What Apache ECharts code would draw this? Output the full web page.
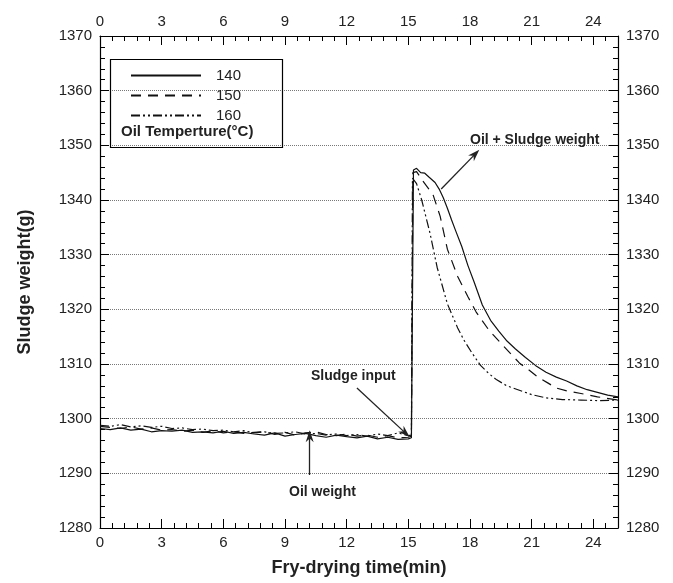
<!DOCTYPE html>
<html>
<head>
<meta charset="utf-8">
<script src="https://cdn.jsdelivr.net/npm/echarts@6/dist/echarts.min.js"></script>
<style>html,body{margin:0;padding:0;background:#fff;}#c{width:673px;height:583px;}</style>
</head>
<body>
<div id="c"></div>
<script>
// ---- data ----
const seriesNames = ['140', '150', '160'];
const xTickLabels = [0, 3, 6, 9, 12, 15, 18, 21, 24];
const yTickLabels = [1280, 1290, 1300, 1310, 1320, 1330, 1340, 1350, 1360, 1370];

const time140 = [0,0.5,1,1.5,2,2.5,3,3.5,4,4.5,5,5.5,6,6.5,7,7.5,8,8.5,9,9.5,10,10.5,11,11.5,12,12.5,13,13.5,14,14.5,15,15.15,
  15.25,15.4,15.6,15.8,16.0,16.3,16.5,16.7,16.9,17.1,17.3,17.6,17.9,18.2,18.6,19.0,19.4,19.8,20.2,20.7,21.2,21.7,22.2,22.7,23.2,23.7,24.2,24.7,25.2];
const val140 = [1298.2,1298.0,1298.3,1297.9,1298.1,1297.6,1297.8,1297.7,1297.9,1297.5,1297.6,1297.4,1297.7,1297.3,1297.5,1297.2,1297.0,1297.4,1296.8,1297.1,1297.3,1296.9,1296.6,1297.0,1296.7,1296.5,1296.8,1296.3,1296.6,1296.2,1296.3,1296.5,
  1345.5,1345.8,1345.0,1344.9,1344.2,1343.2,1342.0,1340.4,1338.5,1336.4,1334.4,1331.5,1328.0,1325.0,1320.8,1318.0,1316.0,1314.2,1312.8,1311.2,1309.7,1308.5,1307.6,1306.9,1306.0,1305.3,1304.8,1304.3,1304.0];

const time150 = [0,0.5,1,1.5,2,2.5,3,3.5,4,4.5,5,5.5,6,6.5,7,7.5,8,8.5,9,9.5,10,10.5,11,11.5,12,12.5,13,13.5,14,14.5,15,15.15,
  15.22,15.4,15.7,16.0,16.2,16.55,16.9,17.4,17.9,18.3,18.9,19.5,20.0,20.4,20.9,21.3,21.8,22.2,22.8,23.4,24.2,25.2];
const val150 = [1298.6,1298.4,1298.2,1298.5,1298.1,1298.3,1297.9,1298.0,1297.7,1297.9,1297.5,1297.8,1297.4,1297.6,1297.3,1297.5,1297.6,1297.1,1297.5,1297.0,1297.4,1297.6,1297.1,1296.9,1297.2,1296.8,1297.0,1296.6,1296.9,1296.5,1296.6,1296.8,
  1345.0,1345.2,1343.5,1342.0,1341.0,1337.0,1331.0,1326.0,1322.3,1319.5,1316.3,1313.8,1311.8,1310.2,1308.8,1307.6,1306.5,1305.6,1305.0,1304.6,1304.0,1303.4];

const time160 = [0,0.5,1,1.5,2,2.5,3,3.5,4,4.5,5,5.5,6,6.5,7,7.5,8,8.5,9,9.5,10,10.5,11,11.5,12,12.5,13,13.5,14,14.5,15,15.15,
  15.2,15.4,15.65,16.05,16.4,16.9,17.4,17.7,18.1,18.5,18.9,19.3,19.8,20.4,21.0,21.7,22.5,23.4,24.3,25.2];
const val160 = [1298.8,1298.6,1298.9,1298.5,1298.7,1298.4,1298.6,1298.2,1298.3,1298.0,1298.1,1297.8,1297.9,1297.6,1297.8,1297.4,1297.6,1297.3,1297.4,1297.6,1297.2,1297.3,1297.0,1297.2,1296.9,1297.1,1296.8,1297.2,1296.9,1297.4,1296.9,1297.0,
  1344.0,1343.0,1340.0,1334.0,1327.7,1321.0,1316.6,1314.4,1312.0,1309.8,1308.3,1307.1,1306.0,1305.2,1304.4,1303.8,1303.5,1303.4,1303.3,1303.4];

// arrows: [fromX, fromY, toX, toY] in data units
const arrowOil = [10.2, 1289.7, 10.2, 1296.8];
const arrowSludge = [12.5, 1305.6, 14.85, 1297.4];
const arrowPeak = [16.6, 1342.0, 18.25, 1348.4];

// ---- chart ----
const FONT = '"Liberation Sans", Arial, sans-serif';
const zip = (t, v) => t.map((x, i) => [x, v[i]]);

function xMajor(pos, show) {
  return {
    type: 'value', position: pos, min: 0, max: 25.2, interval: 3,
    axisLine: { show: true, onZero: false, lineStyle: { color: '#000', width: 1.2 } },
    axisTick: { show: true, inside: true, length: 9, lineStyle: { color: '#000', width: 1 } },
    axisLabel: { show: true, showMaxLabel: false, fontSize: 15, color: '#222', margin: 7, fontFamily: FONT,
      formatter: v => (xTickLabels.indexOf(Math.round(v * 100) / 100) >= 0 ? String(Math.round(v)) : '') },
    splitLine: { show: false },
    name: show ? 'Fry-drying time(min)' : '', nameLocation: 'middle', nameGap: 31,
    nameTextStyle: { fontSize: 18, fontWeight: 'bold', color: '#222', fontFamily: FONT }
  };
}
function xMinor(pos) {
  return {
    type: 'value', position: pos, min: 0, max: 25.2, interval: 0.6,
    axisLine: { show: false, onZero: false },
    axisTick: { show: true, inside: true, length: 5, lineStyle: { color: '#000', width: 1 } },
    axisLabel: { show: false }, splitLine: { show: false }
  };
}
function yAx(pos) {
  return {
    type: 'value', position: pos, min: 1280, max: 1370, interval: 10,
    axisLine: { show: true, onZero: false, lineStyle: { color: '#000', width: 1.2 } },
    axisTick: { show: true, inside: true, length: 9, lineStyle: { color: '#000', width: 1 } },
    minorTick: { show: true, splitNumber: 5, length: 5, lineStyle: { color: '#000', width: 1 } },
    axisLabel: { show: true, fontSize: 15, color: '#222', margin: 8, fontFamily: FONT,
      formatter: v => (yTickLabels.indexOf(v) >= 0 ? String(v) : '') },
    splitLine: { show: pos === 'left', lineStyle: { type: 'dotted', color: '#777', width: 1 } },
    minorSplitLine: { show: false },
    name: pos === 'left' ? 'Sludge weight(g)' : '', nameLocation: 'middle', nameGap: 66,
    nameTextStyle: { fontSize: 18, fontWeight: 'bold', color: '#222', fontFamily: FONT }
  };
}

function arrowPair(a) {
  return [{ coord: [a[0], a[1]] }, { coord: [a[2], a[3]] }];
}

const lineTypes = ['solid', [10, 7], [9, 3, 2, 3, 2, 3]];
const datasets = [zip(time140, val140), zip(time150, val150), zip(time160, val160)];

const series = seriesNames.map((name, i) => ({
  name: name, type: 'line', xAxisIndex: 0, yAxisIndex: 0,
  data: datasets[i], symbol: 'none', showSymbol: false, smooth: false,
  lineStyle: { color: '#111', width: 1.2, type: lineTypes[i] },
  itemStyle: { color: '#111' },
  z: 3
}));
series[0].markLine = {
  silent: true, animation: false,
  symbol: ['none', 'path://M5,0L10,13L5,9L0,13Z'], symbolSize: [8, 12],
  lineStyle: { color: '#222', width: 1.3, type: 'solid' },
  label: { show: false },
  data: [arrowPair(arrowOil), arrowPair(arrowSludge), arrowPair(arrowPeak)]
};

const chart = echarts.init(document.getElementById('c'), null, { renderer: 'canvas' });
chart.setOption({
  animation: false,
  backgroundColor: '#fff',
  grid: { left: 100, right: 55, top: 36, bottom: 55, containLabel: false },
  xAxis: [xMajor('bottom', true), xMinor('bottom'), xMajor('top', false), xMinor('top')],
  yAxis: [yAx('left'), yAx('right')],
  legend: {
    data: seriesNames, orient: 'vertical', left: 130, top: 68, padding: 0,
    itemWidth: 70, itemHeight: 14, itemGap: 5,
    itemStyle: { opacity: 0 },
    textStyle: { fontSize: 15, color: '#222', fontFamily: FONT, padding: [0, 0, 0, 10] },
    selectedMode: false
  },
  graphic: [
    { type: 'rect', left: 108, top: 57, shape: { width: 172, height: 88 },
      style: { fill: 'none', stroke: '#000', lineWidth: 1.2 }, z: 10 },
    { type: 'text', left: 121, top: 124,
      style: { text: 'Oil Temperture(°C)', font: 'bold 15px ' + FONT, fill: '#222' }, z: 10 },
    { type: 'text', left: 470, top: 133,
      style: { text: 'Oil + Sludge weight', font: 'bold 14px ' + FONT, fill: '#222' }, z: 10 },
    { type: 'text', left: 311, top: 369,
      style: { text: 'Sludge input', font: 'bold 14px ' + FONT, fill: '#222' }, z: 10 },
    { type: 'text', left: 289, top: 485,
      style: { text: 'Oil weight', font: 'bold 14px ' + FONT, fill: '#222' }, z: 10 }
  ],
  series: series
});
</script>
</body>
</html>
